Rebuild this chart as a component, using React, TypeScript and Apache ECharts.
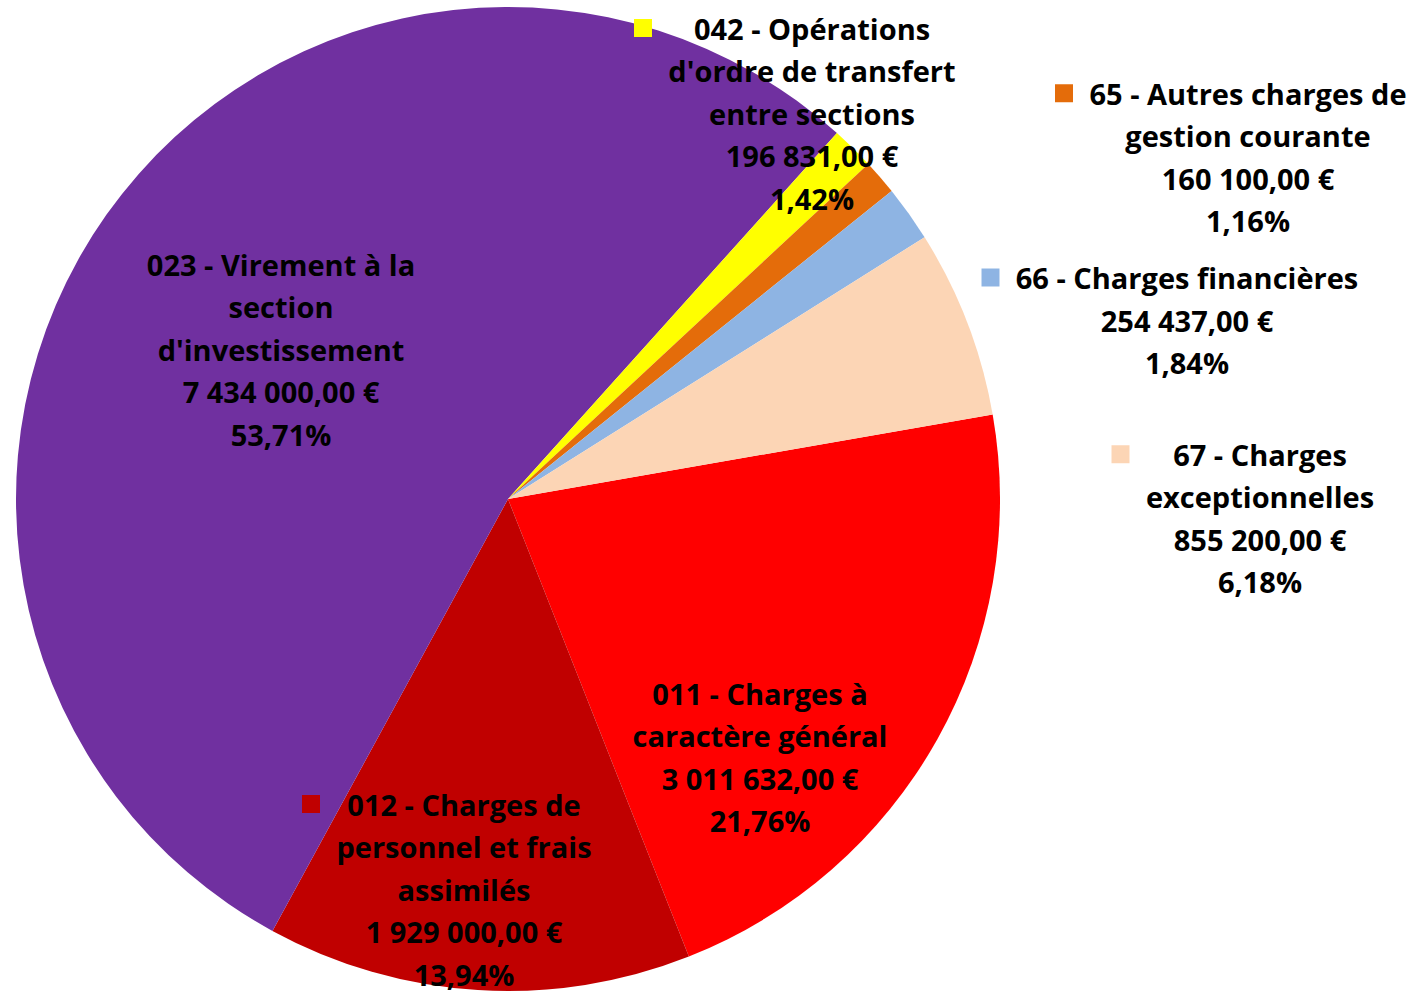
import React, { useEffect, useRef } from "react";
import * as echarts from "echarts";

const categories: string[] = [
  "011 - Charges à\ncaractère général",
  "012 - Charges de\npersonnel et frais\nassimilés",
  "023 - Virement à la\nsection\nd'investissement",
  "042 - Opérations\nd'ordre de transfert\nentre sections",
  "65 - Autres charges de\ngestion courante",
  "66 - Charges financières",
  "67 - Charges\nexceptionnelles",
];
const values: number[] = [3011632, 1929000, 7434000, 196831, 160100, 254437, 855200];
const colors: string[] = ["#FF0000", "#C00000", "#7030A0", "#FFFF00", "#E46C0A", "#8EB4E3", "#FCD5B5"];
const showKey: boolean[] = [false, true, false, true, true, true, true];

// label block centres (layout only)
const labelPos: [number, number][] = [
  [760, 757],
  [464, 889],
  [281, 349],
  [812, 113],
  [1248, 157],
  [1187, 320],
  [1260, 518],
];

const FONT_SIZE = 29;
const FONT_FAMILY = "Open Sans";
const LINE_H = 42.5;
const KEY = 18;
const KEY_GAP = 16;

function fmtMoney(v: number): string {
  const s = Math.round(v).toString().replace(/\B(?=(\d{3})+(?!\d))/g, " ");
  return s + ",00 €";
}

function measure(text: string): number {
  const c = document.createElement("canvas");
  const ctx = c.getContext("2d")!;
  ctx.font = `bold ${FONT_SIZE}px "${FONT_FAMILY}"`;
  return ctx.measureText(text).width;
}

export default function App() {
  const ref = useRef<HTMLDivElement>(null);
  useEffect(() => {
    document.body.style.margin = "0";
    const chart = echarts.init(ref.current!, null, { renderer: "svg" });
    const total = values.reduce((a, b) => a + b, 0);

    const rich: Record<string, any> = {};
    colors.forEach((c, i) => {
      rich["sq" + i] = { width: KEY, height: KEY, backgroundColor: c, lineHeight: LINE_H };
    });
    rich.g = { width: KEY_GAP, lineHeight: LINE_H };
    rich.g2 = { width: KEY + KEY_GAP, lineHeight: LINE_H };

    const texts = categories.map((name, i) => {
      const pct = ((values[i] / total) * 100).toFixed(2).replace(".", ",") + "%";
      const lines = name.split("\n").concat([fmtMoney(values[i]), pct]);
      if (showKey[i]) {
        const w = Math.max(...lines.map(measure));
        rich["h" + i] = { width: Math.ceil(w), lineHeight: LINE_H };
        lines[0] = `{sq${i}| }{g| }{h${i}|${lines[0]}}{g2| }`;
      }
      return lines.join("\n");
    });

    chart.setOption({
      animation: false,
      backgroundColor: "#ffffff",
      series: [
        {
          type: "pie",
          center: [508, 499],
          radius: 492,
          startAngle: 9.9,
          clockwise: true,
          avoidLabelOverlap: false,
          itemStyle: { borderWidth: 0 },
          emphasis: { disabled: true },
          labelLine: { show: false },
          label: {
            show: true,
            position: "inside",
            color: "#000000",
            fontFamily: FONT_FAMILY,
            fontWeight: "bold",
            fontSize: FONT_SIZE,
            lineHeight: LINE_H,
            align: "center",
            formatter: (p: any) => texts[p.dataIndex],
            rich,
          },
          labelLayout: (p: any) => ({
            x: labelPos[p.dataIndex][0],
            y: labelPos[p.dataIndex][1],
            align: "center",
            verticalAlign: "middle",
          }),
          data: categories.map((n, i) => ({
            name: n.replace(/\n/g, " "),
            value: values[i],
            itemStyle: { color: colors[i] },
          })),
        },
      ],
    });
    return () => chart.dispose();
  }, []);
  return <div ref={ref} style={{ width: 1423, height: 992 }} />;
}
